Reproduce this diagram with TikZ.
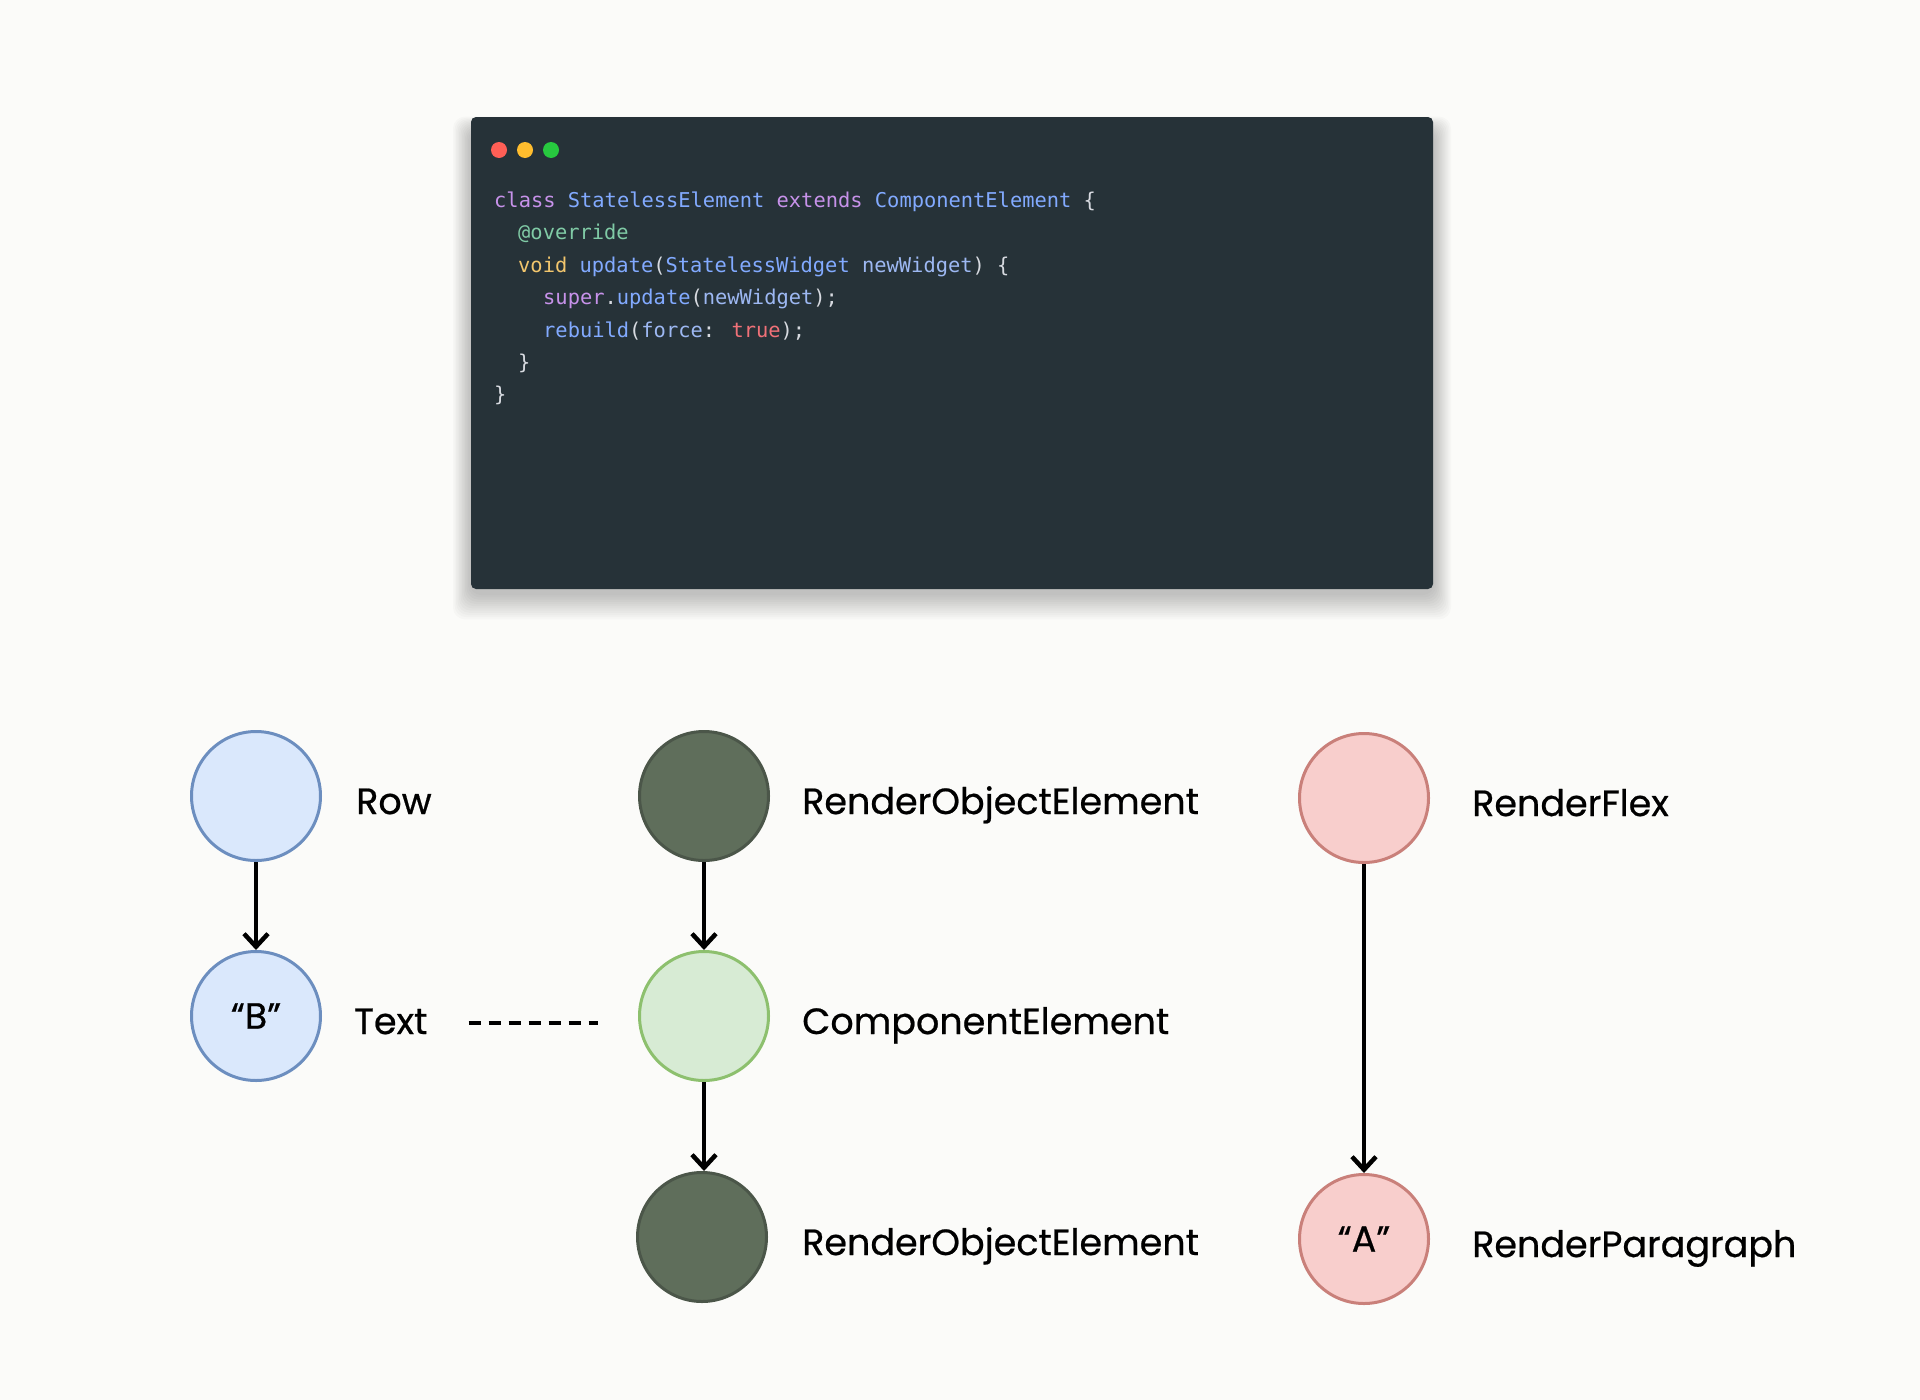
\documentclass[tikz,border=0pt]{standalone}
\usepackage{fontspec}
\setmainfont{Poppins}[FakeBold=0.6]
\newfontfamily\lblfont{Poppins}[FakeBold=0.6]
\newfontfamily\codefont{DejaVu Sans Mono}
\usetikzlibrary{positioning,calc,arrows.meta}

\definecolor{bgcol}{HTML}{FBFBF9}
\definecolor{panelcol}{HTML}{263238}
\definecolor{widgetline}{HTML}{6C8EBF}
\definecolor{widgetfill}{HTML}{DAE8FC}
\definecolor{elemline}{HTML}{4B5649}
\definecolor{elemfill}{HTML}{5F6E5B}
\definecolor{compline}{HTML}{8DC06E}
\definecolor{compfill}{HTML}{D7EBD4}
\definecolor{renderline}{HTML}{C9807A}
\definecolor{renderfill}{HTML}{F8CECC}
\definecolor{kwcol}{HTML}{C792EA}
\definecolor{clscol}{HTML}{82AAFF}
\definecolor{metacol}{HTML}{80CBA6}
\definecolor{voidcol}{HTML}{F2C66D}
\definecolor{parcol}{HTML}{9DB8F2}
\definecolor{pcol}{HTML}{D7DAE0}
\definecolor{truecol}{HTML}{F07178}

\tikzset{font=\lblfont\fontsize{36.5}{42}\selectfont}
\tikzset{
	elem/.style={circle, minimum size=129pt, inner sep=0pt, line width=3pt},
	widget/.style={elem, draw=widgetline, fill=widgetfill},
	element/.style={elem, draw=elemline, fill=elemfill},
	compelem/.style={elem, draw=compline, fill=compfill},
	render/.style={elem, draw=renderline, fill=renderfill},
	lbl/.style={inner sep=0pt, text height=36pt, text depth=0pt},
	link/.style={line width=4pt, -{Straight Barb[length=13pt,width=24pt,line width=4.5pt]}},
	dashline/.style={line width=3.5pt, dash pattern=on 12pt off 8pt},
	code/.style={anchor=base west, inner sep=0pt, pcol, font=\codefont\fontsize{20.4}{24}\selectfont},
	light/.style={circle, inner sep=0pt, minimum size=16pt},
}

\begin{document}
\begin{tikzpicture}[x=1pt, y=-1pt]
	\fill[bgcol] (0,0) rectangle (1920,1400);
	\useasboundingbox (0,0) rectangle (1920,1400);

	% code window
	\foreach \i in {1,...,12}
		\fill[black, opacity=0.02, rounded corners=12pt] (471-1.5*\i, 131-1.2*\i) rectangle (1433+1.5*\i, 593+2.2*\i);
	\fill[panelcol, rounded corners=5pt] (471,117) rectangle (1433,589);
	\node[light, fill={rgb,255:red,255;green,95;blue,86}] (red) at (499,150) {};
	\node[light, fill={rgb,255:red,255;green,189;blue,46}] (yellow) at (525,150) {};
	\node[light, fill={rgb,255:red,39;green,201;blue,63}] (green) at (551,150) {};

	\node[code] (c1) at (494,207) {\textcolor{kwcol}{class} \textcolor{clscol}{StatelessElement} \textcolor{kwcol}{extends} \textcolor{clscol}{ComponentElement} \{};
	\node[code] (c2) at (518,239) {\textcolor{metacol}{@override}};
	\node[code] (c3) at (518,272) {\textcolor{voidcol}{void} \textcolor{clscol}{update}(\textcolor{clscol}{StatelessWidget} \textcolor{parcol}{newWidget}) \{};
	\node[code] (c4) at (543,304) {\textcolor{kwcol}{super}.\textcolor{clscol}{update}(\textcolor{parcol}{newWidget});};
	\node[code] (c5) at (543,337) {\textcolor{clscol}{rebuild}(\textcolor{parcol}{force}: \textcolor{truecol}{true});};
	\node[code] (c6) at (518,369) {\}};
	\node[code] (c7) at (494,401) {\}};

	% trees
	\begin{scope}
		\node[widget] (row) at (256,796) {};
		\node[widget] (b) at (256,1016) {“B”};
		\node[element] (roe1) at (704,796) {};
		\node[compelem] (comp) at (704,1016) {};
		\node[element] (roe2) at (702,1237) {};
		\node[render] (flex) at (1364,798) {};
		\node[render] (para) at (1364,1239) {“A”};

		\node[lbl, right=34pt of row] (rowlbl) {Row};
		\node[lbl, right=32pt of b] (textlbl) {Text};
		\node[lbl, right=32pt of roe1] (roe1lbl) {RenderObjectElement};
		\node[lbl, right=32pt of comp] (complbl) {ComponentElement};
		\node[lbl, right=34pt of roe2] (roe2lbl) {RenderObjectElement};
		\node[lbl, right=42pt of flex] (flexlbl) {RenderFlex};
		\node[lbl, right=42pt of para] (paralbl) {RenderParagraph};

		\draw[link] (row) -- (b);
		\draw[link] (roe1) -- (comp);
		\draw[link] (comp.south) -- (comp.south |- roe2.north);
		\draw[link] (flex) -- (para);
		\draw[dashline, shorten <=41pt, shorten >=40pt] ([yshift=-7pt]textlbl.east) -- ([yshift=-7pt]comp.west);
	\end{scope}
\end{tikzpicture}
\end{document}
